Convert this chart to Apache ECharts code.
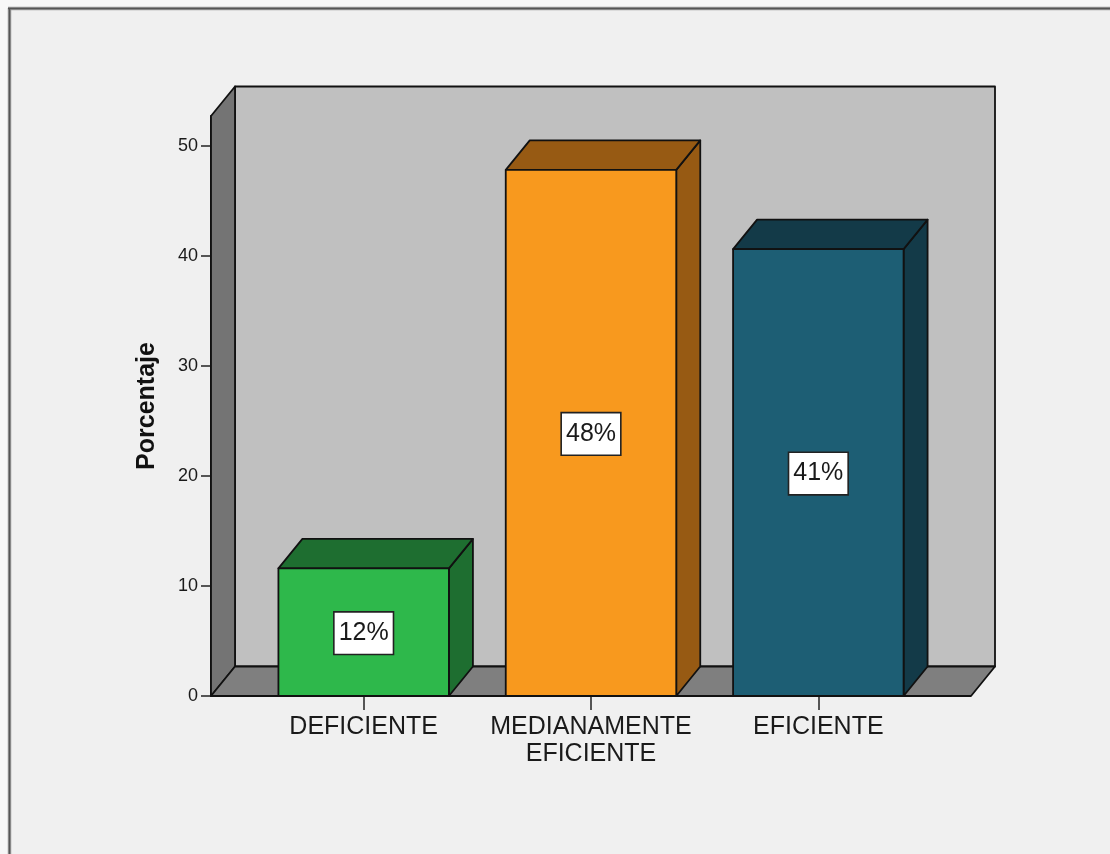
<!DOCTYPE html>
<html>
<head>
<meta charset="utf-8">
<title>Porcentaje</title>
<script src="https://cdn.jsdelivr.net/npm/echarts@6/dist/echarts.min.js"></script>
<style>
  html, body { margin: 0; padding: 0; background: #f7f7f7; }
  #chart { width: 1110px; height: 854px; }
</style>
</head>
<body>
<div id="chart"></div>
<script>
// Categories and percentage of responses per category
const categories = ['DEFICIENTE', 'MEDIANAMENTE\nEFICIENTE', 'EFICIENTE'];
const percentages = [11.6, 47.8, 40.6];
const yTickValues = [0, 10, 20, 30, 40, 50];
const yAxisMax = 52.7;

// Face colours of each 3D bar: front, top, right side
const frontColors = ['#2eb84b', '#f8991e', '#1d5e74'];
const topColors = ['#1e6e30', '#975a13', '#133a48'];
const sideColors = ['#1e6e30', '#975a13', '#133a48'];

// Depth of the 3D projection (pixels) and how far the walls reach past the bars' bands
const DX = 24, DY = -29.5;
const WALL_EXT = 39;
const FONT = '"Liberation Sans", Arial, sans-serif';

const chart = echarts.init(document.getElementById('chart'), null, { renderer: 'canvas' });

function renderWalls(params, api) {
  const cs = params.coordSys;
  const left = cs.x - WALL_EXT;
  const right = cs.x + cs.width + WALL_EXT;
  const top = api.coord([0, yAxisMax])[1];
  const bottom = api.coord([0, 0])[1];
  const stroke = { stroke: '#111', lineWidth: 1.8, lineJoin: 'round' };
  return {
    type: 'group',
    children: [
      { type: 'polygon', shape: { points: [[left + DX, top + DY], [right + DX, top + DY], [right + DX, bottom + DY], [left + DX, bottom + DY]] },
        style: Object.assign({ fill: '#c0c0c0' }, stroke) },
      { type: 'polygon', shape: { points: [[left, top], [left + DX, top + DY], [left + DX, bottom + DY], [left, bottom]] },
        style: Object.assign({ fill: '#747474' }, stroke) },
      { type: 'polygon', shape: { points: [[left, bottom], [left + DX, bottom + DY], [right + DX, bottom + DY], [right, bottom]] },
        style: Object.assign({ fill: '#7f7f7f' }, stroke) }
    ]
  };
}

function renderBar(params, api) {
  const i = api.value(0);
  const v = api.value(1);
  const base = api.coord([i, 0]);
  const topPt = api.coord([i, v]);
  const w = api.size([1, 0])[0] * 0.75;
  const x0 = base[0] - w / 2, x1 = base[0] + w / 2;
  const yT = topPt[1], yB = base[1];
  const stroke = { stroke: '#111', lineWidth: 1.8, lineJoin: 'round' };
  return {
    type: 'group',
    children: [
      { type: 'polygon', shape: { points: [[x1, yT], [x1 + DX, yT + DY], [x1 + DX, yB + DY], [x1, yB]] },
        style: Object.assign({ fill: sideColors[i] }, stroke) },
      { type: 'polygon', shape: { points: [[x0, yT], [x0 + DX, yT + DY], [x1 + DX, yT + DY], [x1, yT]] },
        style: Object.assign({ fill: topColors[i] }, stroke) },
      { type: 'rect', shape: { x: x0, y: yT, width: w, height: yB - yT },
        style: Object.assign({ fill: frontColors[i] }, stroke) },
      { type: 'text', x: base[0], y: (yT + yB) / 2 + 1,
        style: {
          text: Math.round(v) + '%',
          font: '25px ' + FONT,
          fill: '#1a1a1a',
          align: 'center',
          verticalAlign: 'middle',
          lineHeight: 27,
          backgroundColor: '#ffffff',
          borderColor: '#222',
          borderWidth: 1.6,
          padding: [7, 4, 7, 4]
        } }
    ]
  };
}

const option = {
  backgroundColor: '#f7f7f7',
  animation: false,
  graphic: [
    { type: 'rect', z: -10, silent: true, shape: { x: 9, y: 8, width: 1110, height: 860 },
      style: { fill: '#f0f0f0' } },
    { type: 'line', z: 100, silent: true, shape: { x1: 8, y1: 8.5, x2: 1110, y2: 8.5 },
      style: { stroke: '#9a9a9a', lineWidth: 3.5 } },
    { type: 'line', z: 100, silent: true, shape: { x1: 9.5, y1: 8, x2: 9.5, y2: 854 },
      style: { stroke: '#9a9a9a', lineWidth: 3.5 } },
    { type: 'line', z: 101, silent: true, shape: { x1: 8, y1: 8.5, x2: 1110, y2: 8.5 },
      style: { stroke: '#555', lineWidth: 1.5 } },
    { type: 'line', z: 101, silent: true, shape: { x1: 9.5, y1: 8, x2: 9.5, y2: 854 },
      style: { stroke: '#555', lineWidth: 1.5 } }
  ],
  grid: { left: 250, right: 178, top: 116, bottom: 158, containLabel: false },
  xAxis: {
    type: 'category',
    data: categories,
    boundaryGap: true,
    axisLine: { show: false },
    axisTick: { show: true, alignWithLabel: true, length: 14, lineStyle: { color: '#222', width: 1.5 } },
    axisLabel: { color: '#1a1a1a', fontFamily: FONT, fontSize: 25, lineHeight: 27, margin: 18, interval: 0 },
    splitLine: { show: false }
  },
  yAxis: {
    type: 'value',
    min: 0,
    max: yAxisMax,
    interval: 10,
    offset: WALL_EXT,
    name: 'Porcentaje',
    nameLocation: 'middle',
    nameRotate: 90,
    nameGap: 51,
    nameTextStyle: { color: '#111', fontFamily: FONT, fontSize: 25, fontWeight: 'bold' },
    axisLine: { show: true, lineStyle: { color: '#111', width: 2 } },
    axisTick: { show: true, length: 10, customValues: yTickValues, lineStyle: { color: '#222', width: 1.5 } },
    axisLabel: { color: '#1a1a1a', fontFamily: FONT, fontSize: 18, margin: 13, customValues: yTickValues },
    splitLine: { show: false }
  },
  series: [
    { type: 'custom', name: 'walls', z: 1, silent: true, renderItem: renderWalls, data: [[0, 0]] },
    { type: 'custom', name: 'Porcentaje', z: 3, renderItem: renderBar,
      encode: { x: 0, y: 1 },
      data: percentages.map((v, i) => [i, v]) }
  ]
};

chart.setOption(option);
</script>
</body>
</html>
